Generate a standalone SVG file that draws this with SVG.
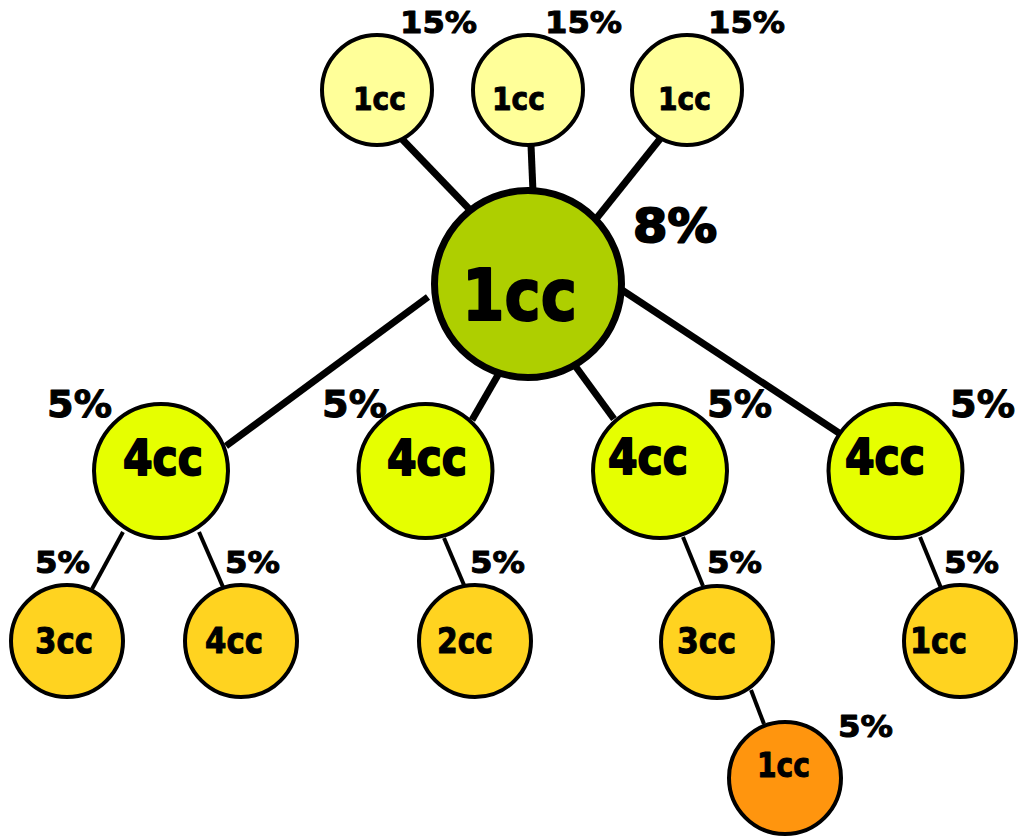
<svg xmlns="http://www.w3.org/2000/svg" width="1020" height="836" viewBox="0 0 1020 836">
<style>
text{font-family:"DejaVu Sans","Verdana",sans-serif;font-weight:bold;fill:#000;stroke:#000;stroke-width:1;stroke-linejoin:round}
.big{stroke-width:2}
.c{stroke:#000;stroke-width:4}
.top{fill:#FFFF99}
.main{fill:#AECF00;stroke:#000;stroke-width:7}
.mid{fill:#E6FF00}
.bot{fill:#FFD320}
.org{fill:#FF950E}
.thick{stroke:#000;stroke-width:7;fill:none}
.thin{stroke:#000;stroke-width:4;fill:none}
</style>
<rect width="1020" height="836" fill="#fff"/>
<g id="connectors">
<line class="thick" x1="400" y1="137" x2="474" y2="214"/>
<line class="thick" x1="531" y1="145" x2="533" y2="192"/>
<line class="thick" x1="660" y1="139" x2="596" y2="219"/>
<line class="thick" x1="428" y1="297" x2="226" y2="446"/>
<line class="thick" x1="498" y1="375" x2="472" y2="420"/>
<line class="thick" x1="576" y1="367" x2="614" y2="419"/>
<line class="thick" x1="622" y1="290" x2="839" y2="433"/>
<line class="thin" x1="123" y1="532" x2="92" y2="589"/>
<line class="thin" x1="199" y1="532" x2="223" y2="587"/>
<line class="thin" x1="444" y1="538" x2="464" y2="585"/>
<line class="thin" x1="683" y1="537" x2="703" y2="586"/>
<line class="thin" x1="920" y1="537" x2="941" y2="588"/>
<line class="thin" x1="751" y1="690" x2="764" y2="724"/>
</g>
<g id="top1"><circle class="c top" cx="377" cy="90" r="55"/><text x="353" y="110" font-size="32" textLength="53" lengthAdjust="spacingAndGlyphs">1cc</text><text x="400" y="33" font-size="31" textLength="77" lengthAdjust="spacingAndGlyphs">15%</text></g>
<g id="top2"><circle class="c top" cx="528" cy="90" r="55"/><text x="492" y="110" font-size="32" textLength="53" lengthAdjust="spacingAndGlyphs">1cc</text><text x="545" y="33" font-size="31" textLength="77" lengthAdjust="spacingAndGlyphs">15%</text></g>
<g id="top3"><circle class="c top" cx="687" cy="90" r="55"/><text x="658" y="110" font-size="32" textLength="53" lengthAdjust="spacingAndGlyphs">1cc</text><text x="708" y="33" font-size="31" textLength="77" lengthAdjust="spacingAndGlyphs">15%</text></g>
<g id="center"><circle class="main" cx="528" cy="284" r="93.5"/><text class="big" x="462" y="320" font-size="71" textLength="115" lengthAdjust="spacingAndGlyphs">1cc</text><text class="big" x="633" y="242" font-size="46" textLength="84" lengthAdjust="spacingAndGlyphs">8%</text></g>
<g id="mid1"><circle class="c mid" cx="161" cy="471" r="67"/><text class="big" x="123" y="475" font-size="50" textLength="80" lengthAdjust="spacingAndGlyphs">4cc</text><text x="47" y="417" font-size="37" textLength="65" lengthAdjust="spacingAndGlyphs">5%</text></g>
<g id="mid2"><circle class="c mid" cx="425.5" cy="471" r="67"/><text class="big" x="387" y="475" font-size="50" textLength="80" lengthAdjust="spacingAndGlyphs">4cc</text><text x="322" y="417" font-size="37" textLength="65" lengthAdjust="spacingAndGlyphs">5%</text></g>
<g id="mid3"><circle class="c mid" cx="660" cy="471" r="67"/><text class="big" x="608" y="474" font-size="50" textLength="80" lengthAdjust="spacingAndGlyphs">4cc</text><text x="707" y="417" font-size="37" textLength="65" lengthAdjust="spacingAndGlyphs">5%</text></g>
<g id="mid4"><circle class="c mid" cx="895.5" cy="471" r="67"/><text class="big" x="845" y="474" font-size="50" textLength="80" lengthAdjust="spacingAndGlyphs">4cc</text><text x="950" y="417" font-size="37" textLength="65" lengthAdjust="spacingAndGlyphs">5%</text></g>
<g id="bot1"><circle class="c bot" cx="67" cy="641" r="56"/><text x="35" y="653" font-size="35" textLength="58" lengthAdjust="spacingAndGlyphs">3cc</text><text x="35" y="573" font-size="31" textLength="55" lengthAdjust="spacingAndGlyphs">5%</text></g>
<g id="bot2"><circle class="c bot" cx="241" cy="641" r="56"/><text x="205" y="653" font-size="35" textLength="58" lengthAdjust="spacingAndGlyphs">4cc</text><text x="225" y="573" font-size="31" textLength="55" lengthAdjust="spacingAndGlyphs">5%</text></g>
<g id="bot3"><circle class="c bot" cx="475" cy="641" r="56"/><text x="437" y="653" font-size="35" textLength="56" lengthAdjust="spacingAndGlyphs">2cc</text><text x="470" y="573" font-size="31" textLength="55" lengthAdjust="spacingAndGlyphs">5%</text></g>
<g id="bot4"><circle class="c bot" cx="717" cy="642" r="56"/><text x="677" y="653" font-size="35" textLength="59" lengthAdjust="spacingAndGlyphs">3cc</text><text x="707" y="573" font-size="31" textLength="55" lengthAdjust="spacingAndGlyphs">5%</text></g>
<g id="bot5"><circle class="c bot" cx="960" cy="641" r="56"/><text x="910" y="653" font-size="35" textLength="57" lengthAdjust="spacingAndGlyphs">1cc</text><text x="944" y="573" font-size="31" textLength="55" lengthAdjust="spacingAndGlyphs">5%</text></g>
<g id="leaf"><circle class="c org" cx="785" cy="778" r="56"/><text x="757" y="777" font-size="33" textLength="53" lengthAdjust="spacingAndGlyphs">1cc</text><text x="838" y="737" font-size="31" textLength="55" lengthAdjust="spacingAndGlyphs">5%</text></g>
</svg>
